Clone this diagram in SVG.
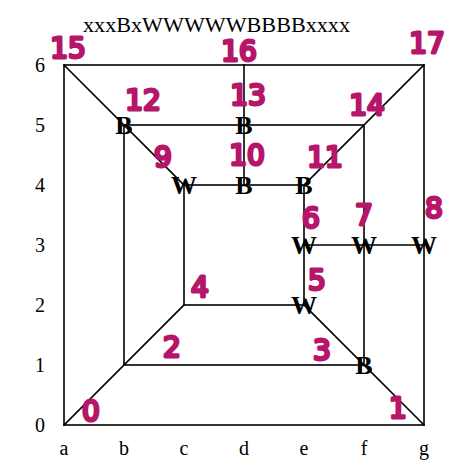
<svg xmlns="http://www.w3.org/2000/svg" width="465" height="473" viewBox="0 0 465 473">
<style>
.ln{stroke:#000;stroke-width:1.6;fill:none;stroke-linecap:square}
.ax{font-family:"Liberation Serif",serif;font-size:20px;fill:#000;text-anchor:middle}
.nd{font-family:"Liberation Serif",serif;font-size:26px;font-weight:bold;fill:#000;text-anchor:middle}
.hw{font-family:"DejaVu Sans",sans-serif;font-size:28px;font-weight:normal;fill:#b5166a;stroke:#b5166a;stroke-width:3;stroke-linejoin:round;stroke-linecap:round;text-anchor:middle;dominant-baseline:central}
</style>
<rect width="465" height="473" fill="#fff"/>
<text x="83" y="32" font-family="Liberation Serif, serif" font-size="20" textLength="267" lengthAdjust="spacingAndGlyphs">xxxBxWWWWWBBBBxxxx</text>
<g id="axes">
<text class="ax" x="40" y="72">6</text>
<text class="ax" x="40" y="132">5</text>
<text class="ax" x="40" y="192">4</text>
<text class="ax" x="40" y="252">3</text>
<text class="ax" x="40" y="312">2</text>
<text class="ax" x="40" y="372">1</text>
<text class="ax" x="40" y="432">0</text>
<text class="ax" x="64" y="455">a</text>
<text class="ax" x="124" y="455">b</text>
<text class="ax" x="184" y="455">c</text>
<text class="ax" x="244" y="455">d</text>
<text class="ax" x="304" y="455">e</text>
<text class="ax" x="364" y="455">f</text>
<text class="ax" x="424" y="455">g</text>
</g>
<g id="connectors">
<rect class="ln" x="64" y="65" width="360" height="360"/>
<rect class="ln" x="124" y="125" width="240" height="240"/>
<rect class="ln" x="184" y="185" width="120" height="120"/>
<line class="ln" x1="64" y1="65" x2="184" y2="185"/>
<line class="ln" x1="424" y1="65" x2="304" y2="185"/>
<line class="ln" x1="64" y1="425" x2="184" y2="305"/>
<line class="ln" x1="424" y1="425" x2="304" y2="305"/>
<line class="ln" x1="244" y1="65" x2="244" y2="185"/>
<line class="ln" x1="304" y1="245" x2="424" y2="245"/>
</g>
<g id="n-b5"><text class="nd" x="124" y="134">B</text></g>
<g id="n-d5"><text class="nd" x="244" y="134">B</text></g>
<g id="n-c4"><text class="nd" x="184" y="194">W</text></g>
<g id="n-d4"><text class="nd" x="244" y="194">B</text></g>
<g id="n-e4"><text class="nd" x="304" y="194">B</text></g>
<g id="n-e3"><text class="nd" x="304" y="254">W</text></g>
<g id="n-f3"><text class="nd" x="364" y="254">W</text></g>
<g id="n-g3"><text class="nd" x="424" y="254">W</text></g>
<g id="n-e2"><text class="nd" x="304" y="314">W</text></g>
<g id="n-f1"><text class="nd" x="364" y="374">B</text></g>
<g id="annotations">
<text class="hw" x="91" y="411">0</text>
<text class="hw" x="398" y="408">1</text>
<text class="hw" x="172" y="347">2</text>
<text class="hw" x="322" y="350">3</text>
<text class="hw" x="200" y="287">4</text>
<text class="hw" x="317" y="280">5</text>
<text class="hw" x="311" y="218">6</text>
<text class="hw" x="364" y="215">7</text>
<text class="hw" x="434" y="208">8</text>
<text class="hw" x="163" y="157">9</text>
<text class="hw" x="247" y="155">10</text>
<text class="hw" x="325" y="157">11</text>
<text class="hw" x="143" y="100">12</text>
<text class="hw" x="248" y="95">13</text>
<text class="hw" x="367" y="105">14</text>
<text class="hw" x="68" y="48">15</text>
<text class="hw" x="239" y="51">16</text>
<text class="hw" x="427" y="43">17</text>
</g>
</svg>
